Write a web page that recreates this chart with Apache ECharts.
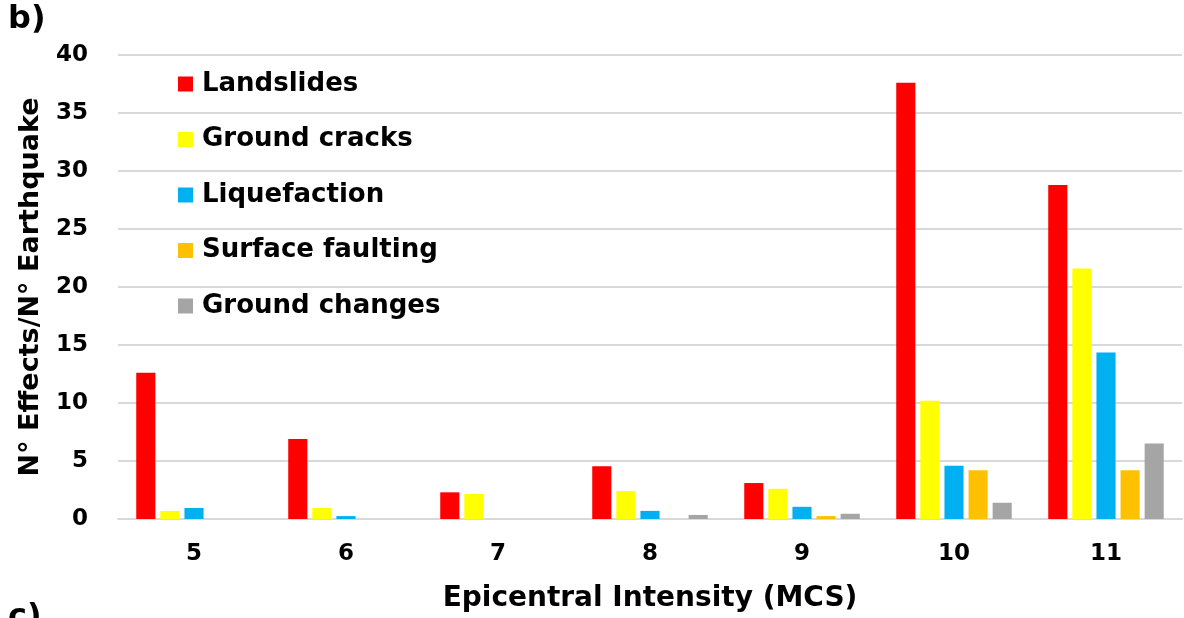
<!DOCTYPE html>
<html><head><meta charset="utf-8">
<script src="https://cdn.jsdelivr.net/npm/echarts@6/dist/echarts.min.js"></script>
<style>html,body{margin:0;padding:0;background:#fff}#c{width:1184px;height:618px}</style>
</head><body><div id="c"></div>
<script>
const categories = ['5','6','7','8','9','10','11'];
const seriesNames = ['Landslides','Ground cracks','Liquefaction','Surface faulting','Ground changes'];
const landslides = [12.6, 6.9, 2.3, 4.55, 3.1, 37.6, 28.8];
const groundCracks = [0.7, 0.95, 2.15, 2.4, 2.6, 10.2, 21.6];
const liquefaction = [0.95, 0.25, 0, 0.7, 1.05, 4.6, 14.35];
const surfaceFaulting = [0, 0, 0, 0, 0.25, 4.2, 4.2];
const groundChanges = [0, 0, 0, 0.35, 0.45, 1.4, 6.5];
const colors = ['#FF0000','#FFFF00','#00B0F0','#FFC000','#A5A5A5'];
const allData = [landslides, groundCracks, liquefaction, surfaceFaulting, groundChanges];
const FONT = '"DejaVu Sans", "Liberation Sans", Arial, sans-serif';

const chart = echarts.init(document.getElementById('c'));
chart.setOption({
  animation: false,
  backgroundColor: '#fff',
  textStyle: {fontFamily: FONT},
  graphic: [
    {type:'text', left: 8, top: 4, style:{text:'b)', font:'bold 32px ' + FONT, fill:'#000'}},
    {type:'text', left: 8, top: 602, style:{text:'c)', font:'bold 32px ' + FONT, fill:'#000'}}
  ],
  legend: {
    orient: 'vertical', left: 173, top: 66,
    itemWidth: 15, itemHeight: 15, itemGap: 29.5,
    icon: 'rect',
    textStyle: {fontFamily: FONT, fontWeight: 'bold', fontSize: 26, color: '#000', lineHeight: 22, padding:[0,0,0,4]},
    data: seriesNames
  },
  grid: {left: 118, right: 2, top: 55, bottom: 98, containLabel: false},
  xAxis: {
    type: 'category', data: categories,
    axisLine: {show: true, lineStyle: {color: '#d9d9d9', width: 2}},
    axisTick: {show: false},
    axisLabel: {fontFamily: FONT, fontWeight: 'bold', fontSize: 23, color: '#000', margin: 24},
    name: 'Epicentral Intensity (MCS)', nameLocation: 'middle', nameGap: 66,
    nameTextStyle: {fontFamily: FONT, fontWeight: 'bold', fontSize: 28, color: '#000'}
  },
  yAxis: {
    type: 'value', min: 0, max: 40, interval: 5,
    axisLine: {show: false}, axisTick: {show: false},
    splitLine: {lineStyle: {color: '#d9d9d9', width: 2}},
    axisLabel: {fontFamily: FONT, fontWeight: 'bold', fontSize: 23, color: '#000', margin: 30},
    name: 'N° Effects/N° Earthquake', nameLocation: 'middle', nameGap: 74,
    nameTextStyle: {fontFamily: FONT, fontWeight: 'bold', fontSize: 27, color: '#000'}
  },
  series: seriesNames.map((n, i) => ({
    name: n, type: 'bar', data: allData[i],
    barGap: '26%', barCategoryGap: '24%',
    itemStyle: {color: colors[i]}
  }))
});
</script></body></html>
